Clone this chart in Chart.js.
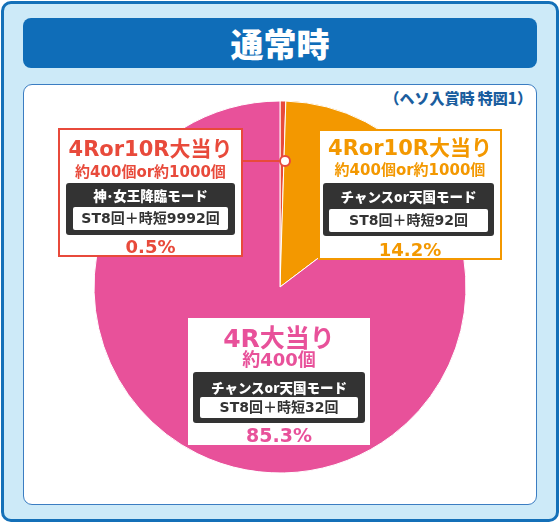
<!DOCTYPE html>
<html>
<head>
<meta charset="utf-8">
<script src="https://cdn.jsdelivr.net/npm/chart.js@4"></script>
<style>
  html, body { margin: 0; padding: 0; }
  body { width: 560px; height: 523px; position: relative; overflow: hidden; background: #fff;
         font-family: "DejaVu Sans", "Noto Sans CJK JP", sans-serif; font-weight: 700; }
  .frame { position: absolute; left: 1px; top: 1px; width: 552px; height: 515px; background: #cdeaf8;
           border: 3px solid #1470b8; border-radius: 10px; }
  .header { position: absolute; left: 23px; top: 18px; width: 514px; height: 50px; background: #0f6db8;
            border-radius: 8px; color: #fff; font-size: 33px; line-height: 50px; text-align: center;
            font-family: "Noto Sans CJK JP", sans-serif; font-weight: 900; }
  .panel { position: absolute; left: 23px; top: 84px; width: 512px; height: 419px; background: #fff;
           border: 1px solid #3b7dc2; border-radius: 9px; }
  .note { position: absolute; right: 28px; top: 86px; font-size: 15px; color: #1a5d9e; line-height: 24px;
          font-family: "Noto Sans CJK JP", sans-serif; font-weight: 900; }
  canvas { position: absolute; left: 0; top: 0; }
  .box { position: absolute; background: #fff; box-sizing: border-box; }
  .line { position: absolute; left: -10px; right: -10px; text-align: center; white-space: nowrap; }
  .mode { font-family: "Noto Sans CJK JP", sans-serif; font-weight: 900; }
  .dark { position: absolute; background: #333; border-radius: 3px; }
  .inner { position: absolute; background: #fff; border-radius: 2px; color: #333; text-align: center; white-space: nowrap; }
  .link { position: absolute; height: 2px; background: #e84a3b; }
  .dot { position: absolute; width: 8px; height: 8px; border: 2px solid #e84a3b; border-radius: 50%; background: #fff; }
</style>
</head>
<body>
<div class="frame"></div>
<div class="header">通常時</div>
<div class="panel"></div>
<div class="note">（ヘソ入賞時 特図1）</div>
<canvas id="myChart" width="560" height="523"></canvas>
<div id="labels"></div>
<script>
// Pie data, clockwise from 12 o'clock.
const sliceNames = ["4Ror10R大当り(神・女王降臨)", "4Ror10R大当り(チャンスor天国)", "4R大当り"];
const sliceValues = [0.5, 14.2, 85.3];
const sliceColors = ["#e84a3b", "#f39800", "#e8519a"];

// Label box texts, same order as the slices.
const boxTitles = ["4Ror10R大当り", "4Ror10R大当り", "4R大当り"];
const boxPayouts = ["約400個or約1000個", "約400個or約1000個", "約400個"];
const boxModes = ["神･女王降臨モード", "チャンスor天国モード", "チャンスor天国モード"];
const boxST = ["ST8回＋時短9992回", "ST8回＋時短92回", "ST8回＋時短32回"];
const boxPercents = ["0.5%", "14.2%", "85.3%"];

var ctx = document.getElementById("myChart");
var myChart = new Chart(ctx, {
  type: "pie",
  data: {
    labels: sliceNames,
    datasets: [
      {
        data: sliceValues,
        backgroundColor: sliceColors,
        borderColor: "#ffffff",
        borderWidth: 1,
        hoverOffset: 0,
      },
    ],
  },
  options: {
    responsive: false,
    animation: false,
    radius: 186,
    layout: { padding: { top: 51 } },
    plugins: {
      legend: { display: false },
      tooltip: { enabled: false },
    },
  },
});

// box geometry: left, top, width, height, border, title y, sub y, dark box, inner box, pct y, font sizes
const layouts = [
  { x: 58, y: 128, w: 185, h: 129, border: true, ty: 22, tf: 21, sy: 44, sf: 15,
    dx: 8, dy: 55, dw: 169, dh: 52, my: 12, ix: 7, iy: 24, iw: 155, ih: 23, py: 119, pf: 18 },
  { x: 318, y: 129, w: 184, h: 131, border: true, ty: 20, tf: 21, sy: 41, sf: 15,
    dx: 5, dy: 54, dw: 171, dh: 53, my: 13, ix: 6, iy: 26, iw: 159, ih: 23, py: 121, pf: 18 },
  { x: 188, y: 318, w: 182, h: 127, border: false, ty: 20, tf: 25, sy: 42, sf: 18,
    dx: 5, dy: 54, dw: 172, dh: 51, my: 15, ix: 7, iy: 25, iw: 158, ih: 21, py: 117, pf: 19 },
];

const holder = document.getElementById("labels");
layouts.forEach((l, i) => {
  const c = sliceColors[i];
  const box = document.createElement("div");
  box.className = "box";
  box.style.cssText = `left:${l.x}px;top:${l.y}px;width:${l.w}px;height:${l.h}px;` +
    (l.border ? `border:2px solid ${c};` : "");
  const off = l.border ? 2 : 0;
  const line = (text, cy, size, color) =>
    `<div class="line" style="top:${cy - off - size * 0.7}px;line-height:${size * 1.4}px;font-size:${size}px;color:${color}">${text}</div>`;
  box.innerHTML =
    line(boxTitles[i], l.ty, l.tf, c) +
    line(boxPayouts[i], l.sy, l.sf, c) +
    `<div class="dark" style="left:${l.dx - off}px;top:${l.dy - off}px;width:${l.dw}px;height:${l.dh}px">` +
      `<div class="line mode" style="top:${l.my - 10}px;line-height:20px;font-size:13.5px;color:#fff">${boxModes[i]}</div>` +
      `<div class="inner" style="left:${l.ix}px;top:${l.iy}px;width:${l.iw}px;height:${l.ih}px;line-height:${l.ih}px;font-size:14px">${boxST[i]}</div>` +
    `</div>` +
    line(boxPercents[i], l.py, l.pf, c);
  holder.appendChild(box);
});

// connector from the small slice to its box
const link = document.createElement("div");
link.className = "link";
link.style.cssText = "left:243px;top:160px;width:38px;";
holder.appendChild(link);
const dot = document.createElement("div");
dot.className = "dot";
dot.style.cssText = "left:279px;top:155px;";
holder.appendChild(dot);
</script>
</body>
</html>
